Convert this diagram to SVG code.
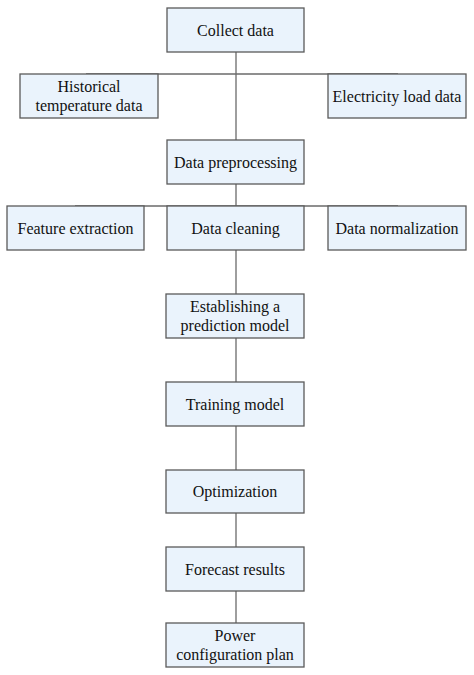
<svg xmlns="http://www.w3.org/2000/svg" width="474" height="675" viewBox="0 0 474 675">
<style>
.box{fill:#eaf3fc;stroke:#5a5a5a;stroke-width:1.3}
.t{font-size:16px;fill:#111;text-anchor:middle}
.c{stroke:#6a6a6a;stroke-width:1.3;fill:none}
</style>
<rect width="474" height="675" fill="#fff"/>
<g id="connectors">
<line class="c" x1="236" y1="52" x2="236" y2="140"/>
<line class="c" x1="86" y1="74" x2="398" y2="74"/>
<line class="c" x1="236" y1="184" x2="236" y2="294"/>
<line class="c" x1="75" y1="206" x2="398" y2="206"/>
<line class="c" x1="236" y1="338" x2="236" y2="382"/>
<line class="c" x1="236" y1="426" x2="236" y2="470"/>
<line class="c" x1="236" y1="513" x2="236" y2="547"/>
<line class="c" x1="236" y1="591" x2="236" y2="623"/>
</g>
<g font-family="'Liberation Serif', 'Times New Roman', 'DejaVu Serif', serif">
<g id="collect"><rect class="box" x="167" y="8" width="137" height="44"/><text class="t" x="235.5" y="35.5">Collect data</text></g>
<g id="historical"><rect class="box" x="20" y="74" width="138" height="44"/><text class="t" x="89" y="92">Historical</text><text class="t" x="89" y="110.5">temperature data</text></g>
<g id="electricity"><rect class="box" x="328" y="74" width="138" height="44"/><text class="t" x="397" y="101.5">Electricity load data</text></g>
<g id="preprocessing"><rect class="box" x="167" y="140" width="137" height="44"/><text class="t" x="235.5" y="167.5">Data preprocessing</text></g>
<g id="feature"><rect class="box" x="7" y="206" width="137" height="44"/><text class="t" x="75.5" y="233.5">Feature extraction</text></g>
<g id="cleaning"><rect class="box" x="167" y="206" width="137" height="44"/><text class="t" x="235.5" y="233.5">Data cleaning</text></g>
<g id="normalization"><rect class="box" x="328" y="206" width="138" height="44"/><text class="t" x="397" y="233.5">Data normalization</text></g>
<g id="establishing"><rect class="box" x="166" y="294" width="138" height="44"/><text class="t" x="235" y="312">Establishing a</text><text class="t" x="235" y="330.5">prediction model</text></g>
<g id="training"><rect class="box" x="166" y="382" width="138" height="44"/><text class="t" x="235" y="409.5">Training model</text></g>
<g id="optimization"><rect class="box" x="166" y="470" width="138" height="43"/><text class="t" x="235" y="497">Optimization</text></g>
<g id="forecast"><rect class="box" x="166" y="547" width="138" height="44"/><text class="t" x="235" y="574.5">Forecast results</text></g>
<g id="power"><rect class="box" x="166" y="623" width="138" height="44"/><text class="t" x="235" y="641">Power</text><text class="t" x="235" y="659.5">configuration plan</text></g>
</g>
</svg>
